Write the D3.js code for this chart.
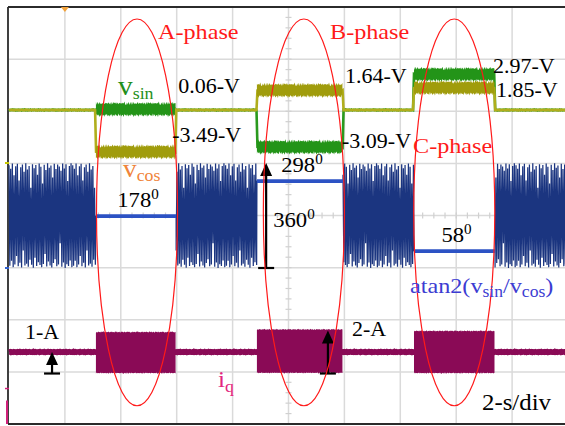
<!DOCTYPE html>
<html>
<head>
<meta charset="utf-8">
<script src="https://cdn.jsdelivr.net/npm/d3@7"></script>
<style>
  html, body { margin: 0; padding: 0; background: #fff; overflow: hidden; }
  svg { display: block; }
  svg text { font-family: "Liberation Serif", "Times New Roman", "DejaVu Serif", serif; }
</style>
</head>
<body>
<svg id="scope" width="565" height="426"></svg>
<script>
// ---------------- data ----------------
const phaseNames  = ["A-phase", "B-phase", "C-phase"];
const phaseStart  = [3.11, 8.87, 14.49];    // s
const phaseEnd    = [5.98, 11.95, 17.39];   // s
const vsinLevels  = [0.06, -3.09, 2.97];    // V
const vcosLevels  = [-3.49, 1.64, 1.85];    // V
const angleLevels = [178, 298, 58];         // deg, atan2(vsin/vcos)
const iqHigh      = [0.93, 1.05, 0.98];     // A, upper envelope of iq burst
const iqLow       = [-0.98, -0.97, -0.98];  // A, lower envelope of iq burst
const idleVolt    = 0;                      // V between excitations
const idleCurrent = 0;                      // A between excitations
const ellipseCentre = [4.58, 10.55, 15.93]; // s, phase highlight rings
const ellipseHalf   = 1.45;                 // s
const timeTicks   = [0, 2, 4, 6, 8, 10, 12, 14, 16, 18, 20];   // s (2 s/div)

// angle samples while the resolver is unexcited (deg)
const angleNoise = [352, 8, 340, 25, 358, 3, 318, 12, 349, 41, 357, 6, 300, 18, 345, 2,
                    355, 60, 330, 9, 359, 15, 338, 4, 350, 28, 275, 11, 356, 1, 342, 35,
                    353, 7, 320, 20, 358, 10, 347, 3, 290, 14, 354, 48, 336, 5, 359, 22,
                    344, 9, 351, 2, 310, 17, 357, 30, 339, 6, 355, 12, 348, 85, 333, 4,
                    358, 19, 341, 0, 356, 13, 298, 7, 350, 26, 359, 3];
// measured ripple on the traces (per-unit of each channel's ripple amplitude)
const ripple = [0.10, -0.12, 0.05, -0.06, 0.14, -0.02, 0.08, -0.15, 0.03, -0.09,
                0.12, -0.04, 0.06, -0.13, 0.09, -0.01, 0.15, -0.08, 0.02, -0.11,
                0.07, -0.05, 0.13, -0.14, 0.04, -0.07, 0.11, -0.03, 0.01, -0.10, 0.16,
                -0.06, 0.09, -0.12, 0.00, 0.05, -0.15, 0.12, -0.02, 0.07, -0.09];

// ---------------- layout ----------------
const W = 565, H = 426;
const svg = d3.select("#scope");

const x    = d3.scaleLinear().domain([0, 20]).range([9, 568]);      // time
const yDiv = d3.scaleLinear().domain([0, 8]).range([7, 424]);       // screen divisions
const yV   = d3.scaleLinear().domain([-4, 4]).range([158, 62]);     // vsin / vcos
const yA   = d3.scaleLinear().domain([0, 360]).range([268, 163]);   // angle
const yI   = d3.scaleLinear().domain([-2, 2]).range([395, 309]);    // iq

const sampleTimes = d3.range(0, 20.0001, 0.035);
const rip = k => ripple[((k % ripple.length) + ripple.length) % ripple.length];

function levelAt(t, levels, idle) {
  for (let i = 0; i < levels.length; i++) {
    if (t >= phaseStart[i] && t < phaseEnd[i]) return levels[i];
  }
  return idle;
}

// ---------------- graticule ----------------
const gGrid = svg.append("g");
gGrid.selectAll("line.v").data(timeTicks.slice(1, -1)).join("line")
  .attr("x1", d => x(d)).attr("x2", d => x(d)).attr("y1", yDiv(0)).attr("y2", yDiv(8))
  .attr("stroke", "#dadada").attr("stroke-width", 1.5);
gGrid.selectAll("line.h").data(d3.range(1, 8)).join("line")
  .attr("x1", x(0)).attr("x2", W).attr("y1", d => yDiv(d)).attr("y2", d => yDiv(d))
  .attr("stroke", "#dadada").attr("stroke-width", 1.5);
// minor ticks on the centre cross
gGrid.selectAll("line.mx").data(d3.range(0, 20.001, 0.4)).join("line")
  .attr("x1", d => x(d)).attr("x2", d => x(d))
  .attr("y1", yDiv(4) - 3).attr("y2", yDiv(4) + 3)
  .attr("stroke", "#d0d0d0").attr("stroke-width", 1.2);
gGrid.selectAll("line.my").data(d3.range(0, 8.001, 0.2)).join("line")
  .attr("x1", x(10) - 3).attr("x2", x(10) + 3)
  .attr("y1", d => yDiv(d)).attr("y2", d => yDiv(d))
  .attr("stroke", "#d0d0d0").attr("stroke-width", 1.2);

// frame
const gFrame = svg.append("g").attr("stroke", "#2b2b2b").attr("stroke-width", 1.8);
gFrame.append("line").attr("x1", 8).attr("x2", 8).attr("y1", yDiv(0)).attr("y2", yDiv(8));
gFrame.append("line").attr("x1", 8).attr("x2", W).attr("y1", yDiv(0)).attr("y2", yDiv(0));
gFrame.append("line").attr("x1", 8).attr("x2", W).attr("y1", yDiv(8)).attr("y2", yDiv(8));

// trigger marker and channel level markers
svg.append("path").attr("d", `M${x(2) - 4},${yDiv(0)} L${x(2) + 4},${yDiv(0)} L${x(2)},${yDiv(0) + 5} Z`)
  .attr("fill", "#f2a23a");
svg.append("line").attr("x1", 5).attr("x2", 9).attr("y1", yA(360)).attr("y2", yA(360))
  .attr("stroke", "#c8c800").attr("stroke-width", 2);
svg.append("line").attr("x1", 5).attr("x2", 9).attr("y1", yA(0)).attr("y2", yA(0))
  .attr("stroke", "#3060d0").attr("stroke-width", 2);
svg.append("line").attr("x1", 5).attr("x2", 9).attr("y1", yI(-1.7)).attr("y2", yI(-1.7))
  .attr("stroke", "#d0207a").attr("stroke-width", 1.5);
svg.append("line").attr("x1", 7).attr("x2", 7).attr("y1", yI(-2.25)).attr("y2", yDiv(8))
  .attr("stroke", "#d0207a").attr("stroke-width", 2);

// ---------------- traces ----------------
const gTr = svg.append("g");
const line = d3.line().x(d => x(d[0])).y(d => d[1]);
const bandArea = d3.area().x(d => x(d.t)).y0(d => d.y0).y1(d => d.y1);

function voltTrace(levels, amp, off) {
  return sampleTimes.map((t, k) => [t, yV(levelAt(t, levels, idleVolt) + rip(k + off) * amp)]);
}
// noisy band (half-width in volts) around each phase level
function drawBands(levels, half, amp, off, colour) {
  levels.forEach((v, i) => {
    const pts = d3.range(phaseStart[i], phaseEnd[i] + 0.0001, 0.03).map((t, k) => ({
      t,
      y0: yV(v - half + rip(k + off) * amp),
      y1: yV(v + half + rip(k * 3 + off + 7) * amp)
    }));
    gTr.append("path").attr("d", bandArea(pts)).attr("fill", colour);
  });
}

// vsin (green) then vcos (olive) on top
gTr.append("path").attr("d", line(voltTrace(vsinLevels, 0.25, 0)))
  .attr("fill", "none").attr("stroke", "#2a9a1e").attr("stroke-width", 2.6);
drawBands(vsinLevels, 0.5, 0.9, 3, "#239418");
gTr.append("path").attr("d", line(voltTrace(vcosLevels, 0.2, 13)))
  .attr("fill", "none").attr("stroke", "#b0ae1c").attr("stroke-width", 2.6);
drawBands(vcosLevels, 0.5, 0.9, 11, "#a09c0c");

// atan2 angle: wrapping noise while unexcited, flat during each phase
const idleWindows = [[0, phaseStart[0]], [phaseEnd[0], phaseStart[1]],
                     [phaseEnd[1], phaseStart[2]], [phaseEnd[2], 20]];
const anglePts = [];
idleWindows.forEach((w, wi) => {
  d3.range(w[0], w[1], 0.03).forEach((t, k) => {
    anglePts.push([t, yA(angleNoise[(k + wi * 17) % angleNoise.length])]);
  });
  if (wi < angleLevels.length) {
    anglePts.push([phaseStart[wi], yA(angleLevels[wi])]);
    anglePts.push([phaseEnd[wi], yA(angleLevels[wi])]);
  }
});
gTr.append("path").attr("d", line(anglePts)).attr("fill", "none")
  .attr("stroke", "#1b3580").attr("stroke-width", 1.25).attr("stroke-linejoin", "bevel");
angleLevels.forEach((a, i) => {
  gTr.append("path").attr("d", line([[phaseStart[i], yA(a)], [phaseEnd[i], yA(a)]]))
    .attr("stroke", "#2c52c4").attr("stroke-width", 3.8);
});

// iq: baseline plus the bursts during each phase
gTr.append("path")
  .attr("d", line(sampleTimes.map((t, k) => [t, yI(idleCurrent + rip(k + 5) * 0.12)])))
  .attr("fill", "none").attr("stroke", "#8a0a56").attr("stroke-width", 5.5);
const area = d3.area().x(d => x(d.t)).y0(d => yI(d.lo)).y1(d => yI(d.hi));
iqHigh.forEach((hi, i) => {
  const pts = d3.range(phaseStart[i], phaseEnd[i] + 0.0001, 0.03).map((t, k) => ({
    t, hi: hi + rip(k + 7) * 0.2, lo: iqLow[i] + rip(k * 3 + 19) * 0.2
  }));
  gTr.append("path").attr("d", area(pts)).attr("fill", "#8a0a56");
});

// ---------------- scale arrows ----------------
const gArr = svg.append("g").attr("fill", "#000").attr("stroke", "#000");
function scaleArrow(t, yFrom, yTo) {
  const xp = x(t);
  gArr.append("line").attr("x1", xp - 8).attr("x2", xp + 8).attr("y1", yFrom).attr("y2", yFrom).attr("stroke-width", 2.2);
  gArr.append("line").attr("x1", xp).attr("x2", xp).attr("y1", yFrom).attr("y2", yTo + 8).attr("stroke-width", 2.2);
  gArr.append("path").attr("d", `M${xp},${yTo} L${xp - 6},${yTo + 13} L${xp + 6},${yTo + 13} Z`).attr("stroke", "none");
}
scaleArrow(1.54, yI(-1), yI(0));      // 1 A
scaleArrow(11.41, yI(-1), yI(1));     // 2 A
scaleArrow(9.2, yA(0), yA(360));      // 360 deg

// ---------------- phase rings ----------------
svg.append("g").selectAll("ellipse").data(ellipseCentre).join("ellipse")
  .attr("cx", d => x(d)).attr("cy", (yDiv(0.23) + yDiv(7.65)) / 2)
  .attr("rx", x(ellipseHalf) - x(0)).attr("ry", (yDiv(7.65) - yDiv(0.23)) / 2)
  .attr("fill", "none").attr("stroke", "#ff1a1a").attr("stroke-width", 1.2);

// ---------------- labels ----------------
const gText = svg.append("g");
function addLabel(px, py, parts, o = {}) {
  const size = o.size || 20;
  const t = gText.append("text")
    .attr("transform", `translate(${px},${py}) scale(${o.stretch || 1.1},1)`)
    .attr("font-size", size)
    .attr("fill", o.color || "#000").attr("text-anchor", o.anchor || "start");
  let shift = 0;
  parts.forEach(p => {
    let txt = p, fs = size, s = 0;
    if (typeof p === "object") {
      fs = o.small || 14;
      if (p.sub !== undefined) { txt = p.sub; s = o.subShift || 4; }
      else { txt = p.sup; s = -(o.supShift || 8); }
    }
    t.append("tspan").attr("font-size", fs).attr("dy", s - shift).text(txt);
    shift = s;
  });
}

phaseNames.forEach((n, i) => {
  const pos = [[158, 39], [330, 39], [413, 153]][i];
  addLabel(pos[0], pos[1], [n], { size: 22, color: "#ff1a1a", stretch: 1.1 });
});

// channel names
addLabel(118, 95, ["v", { sub: "sin" }], { size: 28, small: 17, color: "#1f8f1a", stretch: 1.05, subShift: 4 });
addLabel(123, 177, ["v", { sub: "cos" }], { size: 26, small: 17, color: "#f0843a", stretch: 1.05, subShift: 4 });

// voltage readings beside each phase
const fmtV = v => `${v.toFixed(2)}-V`;
addLabel(x(phaseEnd[0]) + 2, yV(vsinLevels[0]) - 16, [fmtV(vsinLevels[0])]);
addLabel(x(phaseEnd[0]) - 4, yV(vcosLevels[0]) - 10, [fmtV(vcosLevels[0])]);
addLabel(x(phaseEnd[1]) + 2, yV(vcosLevels[1]) - 7, [fmtV(vcosLevels[1])]);
addLabel(x(phaseEnd[1]) - 1, yV(vsinLevels[1]) + 1, [fmtV(vsinLevels[1])]);
addLabel(x(phaseEnd[2]) - 2, yV(vsinLevels[2]) - 1, [fmtV(vsinLevels[2])]);
addLabel(x(phaseEnd[2]) + 1, yV(vcosLevels[2]) + 9, [fmtV(vcosLevels[2])]);

// angle readings above each flat segment
angleLevels.forEach((a, i) => {
  addLabel((x(phaseStart[i]) + x(phaseEnd[i])) / 2 + 2, yA(a) - 9, [String(a), { sup: "0" }],
    { size: 21, small: 14, anchor: "middle", stretch: 1.08, supShift: 8 });
});
addLabel(x(9.2) + 7, (yA(0) + yA(360)) / 2 + 11, ["360", { sup: "0" }], { size: 21, small: 14, stretch: 1.08 });

addLabel(410, 293, ["atan2(v", { sub: "sin" }, "/v", { sub: "cos" }, ")"],
  { size: 22, small: 16, color: "#3c3cd2", stretch: 1.1, subShift: 4 });

addLabel(x(1.54) - 27, yI(0) - 13, ["1-A"], { size: 20 });
addLabel(x(11.41) + 24, yI(1) + 5, ["2-A"], { size: 20 });
addLabel(218, 387, ["i", { sub: "q" }], { size: 24, small: 17, color: "#e2267e", stretch: 1.05, subShift: 5 });
addLabel(482, 410, ["2-s/div"], { size: 23, stretch: 1.08 });
</script>
</body>
</html>
